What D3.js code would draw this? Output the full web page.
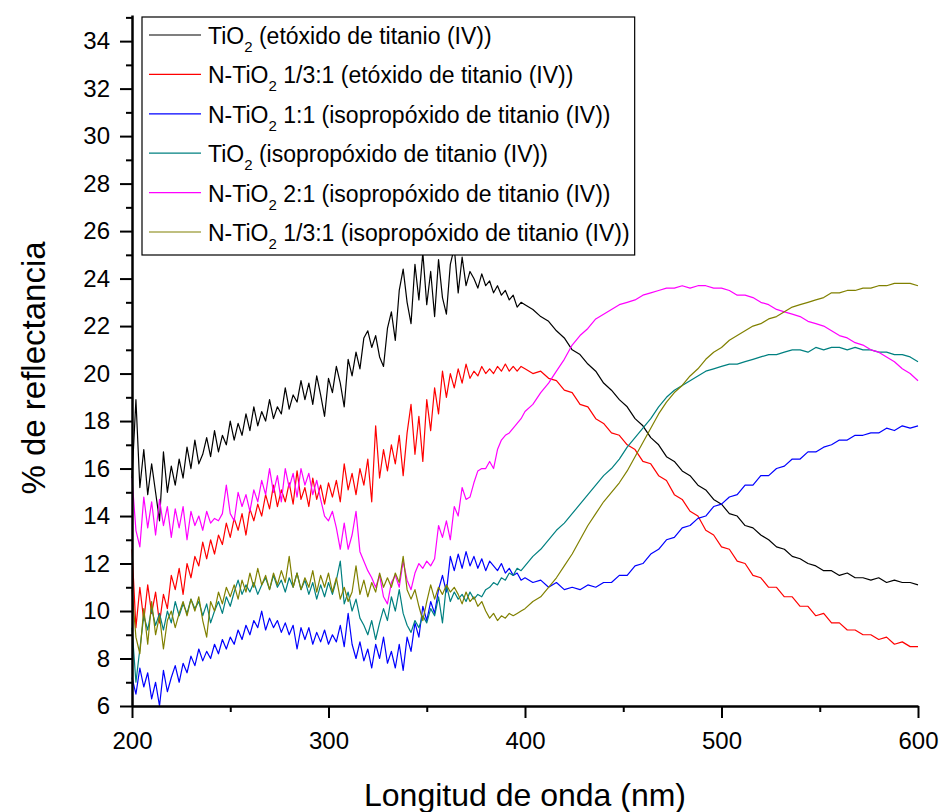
<!DOCTYPE html>
<html>
<head>
<meta charset="utf-8">
<script src="https://cdn.jsdelivr.net/npm/d3@7"></script>
<style>
  html, body { margin: 0; padding: 0; background: #fff; }
  svg { display: block; }
  text { font-family: Arial, "Liberation Sans", sans-serif; fill: #000; }
</style>
</head>
<body>
<svg id="chart" width="944" height="812"></svg>
<script>
// Wavelength grid (nm): 2 nm steps up to 398 nm, then 4 nm steps to 600 nm
const wavelengths = d3.range(200, 400, 2).concat(d3.range(400, 601, 4));

// % reflectance for each sample
const tio2Etox = [
  15.6, 18.9, 15.2, 16.8, 14.9, 16.2, 15.0, 13.8, 16.7, 15.0,
  16.1, 15.3, 16.4, 15.6, 16.9, 16.0, 17.2, 16.2, 16.6, 17.3,
  16.5, 17.6, 16.7, 17.4, 17.0, 18.0, 17.2, 17.9, 17.4, 18.3,
  17.6, 18.6, 17.8, 18.4, 18.0, 18.9, 18.1, 18.6, 18.3, 19.4,
  18.5, 19.1, 18.8, 19.7, 18.9, 19.6, 18.7, 19.9, 19.1, 18.2,
  19.8, 19.2, 20.3, 19.6, 18.6, 20.6, 19.9, 20.9, 20.2, 21.5,
  21.8, 21.1, 21.6, 20.7, 20.3, 21.9, 22.6, 21.4, 23.5, 24.4,
  23.0, 22.1, 24.6, 23.1, 25.1, 22.9, 24.3, 22.4, 24.8, 23.2,
  22.5, 24.6, 25.3, 23.4, 24.9, 23.7, 24.3, 24.0, 23.6, 24.2,
  23.7, 23.9, 23.4, 23.7, 23.3, 23.5, 23.1, 23.3, 22.8, 23.0,
  22.9, 22.7, 22.4, 22.2, 21.8, 21.5, 21.0, 20.8, 20.4, 20.1,
  19.6, 19.3, 18.9, 18.6, 18.1, 17.8, 17.3, 17.0, 16.5, 16.3,
  15.9, 15.7, 15.3, 15.1, 14.7, 14.5, 14.1, 14.0, 13.6, 13.5,
  13.2, 13.0, 12.7, 12.6, 12.3, 12.2, 12.0, 11.9, 11.7, 11.7,
  11.5, 11.6, 11.4, 11.4, 11.3, 11.4, 11.2, 11.3, 11.2, 11.2,
  11.1
];

const nTio2EtoxA = [
  12.6, 9.3, 11.0, 9.6, 11.1, 9.9, 10.8, 9.5, 10.7, 10.1,
  11.5, 10.9, 11.8, 10.7, 12.0, 11.4, 12.3, 11.9, 12.9, 12.2,
  13.0, 12.4, 13.2, 12.8, 13.7, 13.1, 13.9, 13.4, 14.1, 13.2,
  14.3, 13.8, 14.5, 14.0, 14.9, 14.3, 15.3, 14.4, 15.1, 14.6,
  15.4, 14.5, 15.9, 14.7, 15.2, 14.4, 15.6, 14.7, 15.3, 14.5,
  15.4, 14.8, 15.5, 14.6, 16.2, 15.1, 15.8, 14.9, 16.0, 15.3,
  16.4, 14.6, 17.8, 15.6, 16.8, 15.9, 17.0, 16.2, 17.4, 15.7,
  17.5, 18.7, 16.6, 18.2, 16.3, 18.9, 17.6, 19.4, 18.3, 20.1,
  19.0, 20.0, 19.4, 20.2, 19.6, 20.4, 19.8, 20.1, 19.9, 20.3,
  20.0, 20.2, 20.0, 20.3, 20.1, 20.4, 20.1, 20.3, 20.1, 20.3,
  20.2, 20.0, 20.1, 19.8, 19.7, 19.3, 19.2, 18.7, 18.6, 18.1,
  17.9, 17.5, 17.4, 17.0, 16.8, 16.3, 16.2, 15.7, 15.5, 14.9,
  14.7, 14.2, 14.0, 13.4, 13.2, 12.7, 12.6, 12.1, 12.0, 11.5,
  11.4, 11.0, 11.0, 10.6, 10.6, 10.2, 10.2, 9.8, 9.9, 9.5,
  9.5, 9.2, 9.2, 9.0, 9.0, 8.8, 8.9, 8.6, 8.7, 8.5,
  8.5
];

const nTio2Iso11 = [
  7.2, 6.5, 7.6, 6.8, 7.4, 6.3, 7.0, 6.0, 7.5, 6.6,
  7.2, 7.7, 7.0, 7.8, 7.4, 8.1, 7.7, 8.4, 7.9, 8.3,
  8.0, 8.6, 8.2, 8.8, 8.4, 8.9, 8.6, 9.2, 8.8, 9.4,
  9.0, 9.6, 9.3, 10.0, 9.2, 9.7, 9.3, 9.6, 9.1, 9.5,
  9.0, 9.4, 8.4, 9.3, 8.8, 9.3, 8.6, 9.1, 8.7, 9.2,
  8.6, 9.0, 8.7, 9.4, 8.5, 9.9, 8.6, 8.0, 8.7, 7.9,
  8.4, 7.6, 8.6, 8.0, 8.9, 7.8, 8.3, 7.6, 8.6, 7.5,
  8.9, 8.3, 9.5, 8.9, 10.2, 9.6, 10.4, 9.9, 10.9, 11.5,
  10.8, 12.3, 11.7, 12.4, 11.8, 12.5, 11.9, 12.3, 11.8, 12.2,
  11.7, 12.1, 11.9, 11.7, 12.0, 11.6, 11.8, 11.5, 11.6, 11.3,
  11.4, 11.2, 11.3, 11.0, 11.2, 10.9, 11.0, 10.9, 11.1, 11.0,
  11.2, 11.2, 11.5, 11.5, 11.9, 12.0, 12.4, 12.6, 13.0, 13.1,
  13.5, 13.6, 13.9, 14.0, 14.4, 14.5, 14.8, 14.9, 15.3, 15.3,
  15.7, 15.7, 16.0, 16.1, 16.4, 16.4, 16.7, 16.7, 16.9, 17.0,
  17.2, 17.2, 17.4, 17.4, 17.5, 17.5, 17.7, 17.6, 17.8, 17.7,
  17.8
];

const tio2Iso = [
  9.3, 7.0, 8.4, 9.8, 9.2, 10.1, 9.4, 9.9, 9.2, 10.0,
  9.5, 10.4, 9.8, 10.3, 9.9, 10.5, 10.1, 10.4, 9.8, 10.3,
  9.5, 10.0, 10.4, 9.9, 10.6, 10.2, 10.8, 11.3, 10.7, 11.1,
  10.8, 11.2, 10.7, 11.1, 11.4, 10.9, 11.5, 11.0, 11.3, 10.8,
  11.4, 11.0, 11.6, 10.9, 11.3, 10.7, 11.2, 10.5, 11.1, 10.6,
  11.2, 10.7, 11.3, 12.1, 10.3, 10.8, 10.0, 10.5, 9.7, 9.4,
  9.0, 9.6, 8.8, 9.5, 10.1, 9.6, 10.6, 10.0, 10.9, 9.9,
  9.4, 9.1, 9.6, 9.3, 9.8, 9.5, 10.1, 9.8, 10.6, 9.5,
  11.1, 10.4, 10.8, 10.5, 10.7, 10.4, 10.8, 10.5, 10.7, 10.6,
  10.9, 11.0, 11.2, 11.1, 11.4, 11.3, 11.6, 11.5, 11.8, 11.7,
  11.9, 12.3, 12.6, 13.0, 13.4, 13.7, 14.1, 14.5, 14.9, 15.3,
  15.7, 16.0, 16.4, 16.9, 17.3, 17.7, 18.1, 18.6, 19.0, 19.3,
  19.5, 19.7, 19.9, 20.1, 20.2, 20.3, 20.4, 20.4, 20.5, 20.6,
  20.7, 20.8, 20.8, 20.9, 21.0, 21.0, 20.9, 21.1, 21.0, 21.1,
  21.1, 21.0, 21.1, 21.0, 21.0, 20.9, 20.9, 20.8, 20.8, 20.7,
  20.5
];

const nTio2Iso21 = [
  15.6, 13.4, 12.7, 14.8, 13.5, 14.6, 13.2, 14.7, 13.6, 14.4,
  13.1, 14.3, 13.5, 14.4, 13.0, 14.2, 13.6, 14.0, 13.4, 14.2,
  13.7, 13.9, 13.8, 14.1, 15.3, 14.1, 13.8, 15.0, 14.4, 14.9,
  14.2, 15.1, 14.6, 15.5, 14.9, 16.0, 15.0, 15.7, 14.6, 16.0,
  15.2, 15.8, 14.8, 16.0, 15.3, 15.8, 14.9, 15.5, 14.7, 14.0,
  13.8, 14.2, 13.5, 12.6, 13.7, 12.6, 13.2, 14.2, 12.5, 12.1,
  11.7, 11.4, 11.0, 11.5, 10.6, 10.3, 11.2, 11.5, 11.0, 12.1,
  11.3, 10.9, 11.6, 12.0, 11.8, 12.1, 11.9, 12.2, 13.6, 13.1,
  13.8, 13.0, 14.4, 14.0, 15.2, 14.7, 14.8, 15.4, 15.9, 16.0,
  16.0, 16.3, 16.0, 16.8, 17.2, 17.4, 17.5, 17.7, 17.9, 18.1,
  18.4, 18.7, 19.2, 19.6, 20.1, 20.6, 21.2, 21.6, 21.9, 22.3,
  22.5, 22.7, 22.9, 23.0, 23.1, 23.3, 23.4, 23.5, 23.6, 23.6,
  23.7, 23.6, 23.7, 23.7, 23.6, 23.6, 23.5, 23.3, 23.3, 23.2,
  23.0, 22.9, 22.7, 22.6, 22.5, 22.4, 22.2, 22.1, 22.0, 21.8,
  21.6, 21.5, 21.3, 21.2, 21.0, 20.9, 20.7, 20.5, 20.2, 20.0,
  19.7
];

const nTio2IsoA = [
  10.9, 8.9, 8.2, 10.1, 8.6, 10.4, 9.0, 9.8, 8.4, 9.6,
  10.0, 9.3, 9.9, 10.4, 9.8, 10.5, 10.0, 10.6, 9.6, 8.9,
  10.4, 10.0, 10.8, 10.3, 11.0, 10.6, 11.1, 10.5, 11.3, 10.8,
  11.6, 11.0, 11.8, 11.1, 11.5, 10.9, 11.6, 11.1, 11.7, 11.2,
  12.3, 11.0, 11.6, 10.9, 11.4, 11.0, 11.7, 10.8, 11.5, 11.0,
  11.6, 10.8, 11.4, 10.5, 11.0, 10.4, 10.8, 11.9, 10.7, 11.3,
  10.6, 11.2, 10.8, 11.6, 11.0, 11.4, 11.0, 11.6, 11.2, 12.3,
  10.9, 10.5, 10.9, 10.2, 9.6, 10.4, 11.1, 10.5, 11.0, 10.7,
  11.1, 10.8, 11.0, 10.7, 10.3, 10.8, 10.4, 10.6, 10.2, 10.4,
  10.0, 9.7, 9.9, 9.6, 9.8, 9.7, 9.9, 9.8, 9.9, 10.0,
  10.1, 10.4, 10.6, 11.0, 11.4, 11.9, 12.4, 13.0, 13.6, 14.1,
  14.6, 15.0, 15.4, 15.9, 16.5, 17.1, 17.7, 18.3, 18.8, 19.2,
  19.5, 19.9, 20.2, 20.6, 20.9, 21.1, 21.4, 21.6, 21.8, 22.0,
  22.1, 22.3, 22.4, 22.6, 22.8, 22.9, 23.0, 23.1, 23.2, 23.4,
  23.4, 23.5, 23.5, 23.6, 23.6, 23.7, 23.7, 23.8, 23.8, 23.8,
  23.7
];

// Legend entries: [before subscript, subscript, after subscript]
const seriesLabels = [
  ["TiO", "2", " (etóxido de titanio (IV))"],
  ["N-TiO", "2", " 1/3:1 (etóxido de titanio (IV))"],
  ["N-TiO", "2", " 1:1 (isopropóxido de titanio (IV))"],
  ["TiO", "2", " (isopropóxido de titanio (IV))"],
  ["N-TiO", "2", " 2:1 (isopropóxido de titanio (IV))"],
  ["N-TiO", "2", " 1/3:1 (isopropóxido de titanio (IV))"]
];
const seriesValues = [tio2Etox, nTio2EtoxA, nTio2Iso11, tio2Iso, nTio2Iso21, nTio2IsoA];
const seriesColors = ["#000000", "#ff0000", "#0000ff", "#008080", "#ff00ff", "#808000"];

const xMajorTicks = [200, 300, 400, 500, 600];
const xMinorTicks = [250, 350, 450, 550];
const yMajorTicks = d3.range(6, 35, 2);
const yMinorTicks = d3.range(7, 36, 2);

const xTitle = "Longitud de onda (nm)";
const yTitle = "% de reflectancia";

// ---- layout ----
const svg = d3.select("#chart");
const plot = { left: 132, right: 918, top: 15, bottom: 706 };

const x = d3.scaleLinear().domain([200, 600]).range([plot.left, plot.right]);
const y = d3.scaleLinear().domain([6, 35.1]).range([plot.bottom, plot.top]);

// ---- data lines ----
const line = d3.line()
  .x((d, i) => x(wavelengths[i]))
  .y(d => y(d));

svg.append("g")
  .selectAll("path")
  .data(seriesValues)
  .join("path")
  .attr("fill", "none")
  .attr("stroke", (d, i) => seriesColors[i])
  .attr("stroke-width", 1.2)
  .attr("stroke-linejoin", "round")
  .attr("d", line);

// ---- axes ----
function styleAxis(g) {
  g.select(".domain").attr("stroke", "#000").attr("stroke-width", 2.5);
  g.selectAll(".tick line").attr("stroke", "#000").attr("stroke-width", 2);
}

const xAxisMinor = svg.append("g")
  .attr("transform", `translate(0,${plot.bottom})`)
  .call(d3.axisBottom(x).tickValues(xMinorTicks).tickSize(6).tickFormat(""));
xAxisMinor.select(".domain").remove();
xAxisMinor.selectAll(".tick line").attr("stroke", "#000").attr("stroke-width", 2);

const xAxis = svg.append("g")
  .attr("transform", `translate(0,${plot.bottom})`)
  .call(d3.axisBottom(x).tickValues(xMajorTicks).tickSize(12).tickPadding(14).tickSizeOuter(0).tickFormat(d3.format("d")));
styleAxis(xAxis);
xAxis.selectAll(".tick text").attr("font-size", 24).attr("font-family", null);

const yAxisMinor = svg.append("g")
  .attr("transform", `translate(${plot.left},0)`)
  .call(d3.axisLeft(y).tickValues(yMinorTicks).tickSize(6).tickFormat(""));
yAxisMinor.select(".domain").remove();
yAxisMinor.selectAll(".tick line").attr("stroke", "#000").attr("stroke-width", 2);

const yAxis = svg.append("g")
  .attr("transform", `translate(${plot.left},0)`)
  .call(d3.axisLeft(y).tickValues(yMajorTicks).tickSize(12).tickPadding(10).tickSizeOuter(0).tickFormat(d3.format("d")));
styleAxis(yAxis);
yAxis.selectAll(".tick text").attr("font-size", 24).attr("font-family", null);

// ---- axis titles ----
svg.append("text")
  .attr("x", (plot.left + plot.right) / 2)
  .attr("y", 806)
  .attr("text-anchor", "middle")
  .attr("font-size", 32)
  .text(xTitle);

svg.append("text")
  .attr("transform", `translate(45,368) rotate(-90)`)
  .attr("text-anchor", "middle")
  .attr("font-size", 33)
  .text(yTitle);

// ---- legend ----
const legend = svg.append("g");
const legendBox = legend.append("rect")
  .attr("x", 142).attr("y", 17)
  .attr("height", 238)
  .attr("fill", "#fff")
  .attr("stroke", "#000")
  .attr("stroke-width", 1.2);

const rowStep = 39.4;
const rows = legend.selectAll("g.row")
  .data(seriesLabels)
  .join("g")
  .attr("class", "row")
  .attr("transform", (d, i) => `translate(0,${35 + i * rowStep})`);

rows.append("line")
  .attr("x1", 149).attr("x2", 201)
  .attr("y1", 0).attr("y2", 0)
  .attr("stroke", (d, i) => seriesColors[i])
  .attr("stroke-width", 1.2);

const labels = rows.append("text")
  .attr("x", 208)
  .attr("y", 9)
  .attr("font-size", 23);
labels.append("tspan").text(d => d[0]);
labels.append("tspan").attr("font-size", 15).attr("dy", 8).text(d => d[1]);
labels.append("tspan").attr("dy", -8).text(d => d[2]);

let maxRight = 0;
labels.each(function () {
  const b = this.getBBox();
  maxRight = Math.max(maxRight, b.x + b.width);
});
legendBox.attr("width", maxRight + 5 - 142);
</script>
</body>
</html>
